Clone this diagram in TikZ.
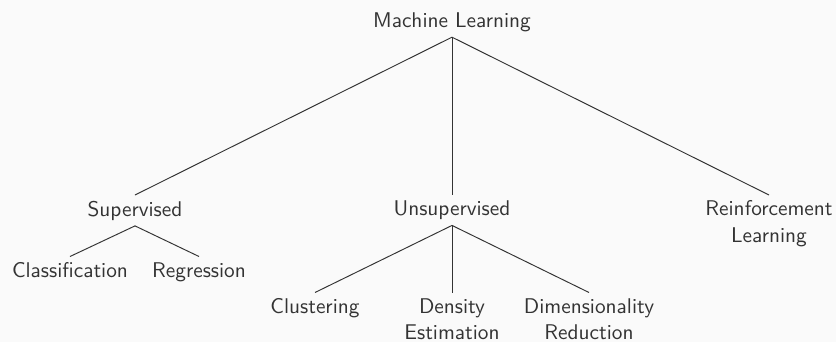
\documentclass[tikz,border=0pt]{standalone}
\usepackage{xcolor}
\definecolor{ink}{HTML}{333333}
\definecolor{bg}{HTML}{FAFAFA}
\begin{document}
\begin{tikzpicture}[x=0.4695pt,y=-0.4695pt,
  lbl/.style={anchor=north,inner xsep=2.8pt,inner ysep=2.5pt,text=ink,font=\sffamily\fontsize{10}{12.5}\selectfont,align=center},
  edge/.style={draw=ink,line width=0.45pt}]
\fill[bg] (0,0) rectangle (836,342);
\useasboundingbox (0,0) rectangle (836,342);
\node[lbl] (ml) at (452,6.5) {Machine Learning};
\node[lbl] (sup) at (135,195) {Supervised};
\node[lbl] (uns) at (452,195) {Unsupervised};
\node[lbl] (rl) at (769,195) {Reinforcement\\Learning};
\node[lbl] (cla) at (70,256.5) {Classification};
\node[lbl] (reg) at (199,256.5) {Regression};
\node[lbl] (clu) at (315,292.5) {Clustering};
\node[lbl] (den) at (452,292.5) {Density\\Estimation};
\node[lbl] (dim) at (589,292.5) {Dimensionality\\Reduction};
\draw[edge] (ml.south) -- (sup.north);
\draw[edge] (ml.south) -- (uns.north);
\draw[edge] (ml.south) -- (rl.north);
\draw[edge] (sup.south) -- (cla.north);
\draw[edge] (sup.south) -- (reg.north);
\draw[edge] (uns.south) -- (clu.north);
\draw[edge] (uns.south) -- (den.north);
\draw[edge] (uns.south) -- (dim.north);
\end{tikzpicture}
\end{document}
